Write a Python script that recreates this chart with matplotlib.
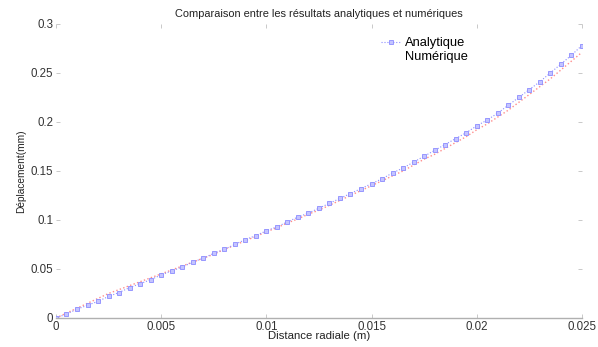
import matplotlib
matplotlib.use("Agg")
import matplotlib.pyplot as plt

# radial distance (m), step 0.0005
x = [0.0, 0.0005, 0.001, 0.0015, 0.002, 0.0025, 0.003, 0.0035, 0.004, 0.0045,
     0.005, 0.0055, 0.006, 0.0065, 0.007, 0.0075, 0.008, 0.0085, 0.009, 0.0095,
     0.010, 0.0105, 0.011, 0.0115, 0.012, 0.0125, 0.013, 0.0135, 0.014, 0.0145,
     0.015, 0.0155, 0.016, 0.0165, 0.017, 0.0175, 0.018, 0.0185, 0.019, 0.0195,
     0.020, 0.0205, 0.021, 0.0215, 0.022, 0.0225, 0.023, 0.0235, 0.024, 0.0245,
     0.025]

# displacement (mm)
analytique = [0.000, 0.004, 0.009, 0.013, 0.017, 0.022, 0.026, 0.031, 0.035, 0.039,
              0.044, 0.048, 0.052, 0.057, 0.061, 0.066, 0.070, 0.075, 0.080, 0.084,
              0.089, 0.093, 0.098, 0.103, 0.107, 0.112, 0.117, 0.122, 0.127, 0.132,
              0.137, 0.142, 0.148, 0.153, 0.159, 0.165, 0.171, 0.177, 0.183, 0.189,
              0.196, 0.202, 0.209, 0.217, 0.225, 0.233, 0.241, 0.250, 0.259, 0.268,
              0.278]
numerique = [0.000, 0.005, 0.010, 0.015, 0.020, 0.025, 0.029, 0.033, 0.037, 0.041,
             0.045, 0.049, 0.053, 0.057, 0.061, 0.065, 0.070, 0.074, 0.079, 0.083,
             0.088, 0.092, 0.097, 0.101, 0.106, 0.110, 0.115, 0.120, 0.125, 0.130,
             0.135, 0.140, 0.145, 0.150, 0.156, 0.162, 0.167, 0.173, 0.179, 0.185,
             0.192, 0.198, 0.205, 0.212, 0.220, 0.228, 0.236, 0.244, 0.253, 0.262,
             0.271]

xticks = [0, 0.005, 0.01, 0.015, 0.02, 0.025]
xticklabels = ["0", "0.005", "0.01", "0.015", "0.02", "0.025"]
yticks = [0, 0.05, 0.1, 0.15, 0.2, 0.25, 0.3]
yticklabels = ["0", "0.05", "0.1", "0.15", "0.2", "0.25", "0.3"]

plt.rcParams['font.family'] = ['Liberation Sans', 'DejaVu Sans']

fig = plt.figure(figsize=(5.98, 3.47), dpi=100)
ax = fig.add_axes([0.0936, 0.0836, 0.8794, 0.8474])

ax.plot(x, numerique, color='#ff8c8c', linestyle=':', linewidth=1.0)
ax.plot(x, analytique, color='#8c8cff', linestyle=':', linewidth=0.8,
        marker='s', markersize=2.6, markerfacecolor='#c4c4ff',
        markeredgecolor='#8c8cff', markeredgewidth=0.6, label='Analytique')
ax.plot([], [], color='white', label='Numérique')

ax.set_xlim(0, 0.025)
ax.set_ylim(0, 0.3)
ax.set_xticks(xticks)
ax.set_xticklabels(xticklabels)
ax.set_yticks(yticks)
ax.set_yticklabels(yticklabels)

for side in ['top', 'right', 'left']:
    ax.spines[side].set_visible(False)
ax.spines['bottom'].set_color('#b0b0b0')
ax.spines['bottom'].set_linewidth(1.0)

ax.tick_params(direction='in', length=3, width=0.6, color='#c0c0c0',
               labelsize=8.3, labelcolor='#333333', top=True, right=True, pad=2)

ax.set_title('Comparaison entre les résultats analytiques et numériques',
             fontsize=7.9, color='#222222', pad=5)
ax.set_xlabel('Distance radiale (m)', fontsize=8.2, color='#222222', labelpad=-1)
ax.set_ylabel('Déplacement(mm)', fontsize=7.3, color='#222222', labelpad=3)

leg = ax.legend(loc='upper left', bbox_to_anchor=(0.6, 0.985), frameon=False,
                fontsize=9.3, handlelength=1.6, handletextpad=0.3,
                labelspacing=0.15, borderpad=0.2)

fig.savefig('out.png', dpi=100, facecolor='white')
